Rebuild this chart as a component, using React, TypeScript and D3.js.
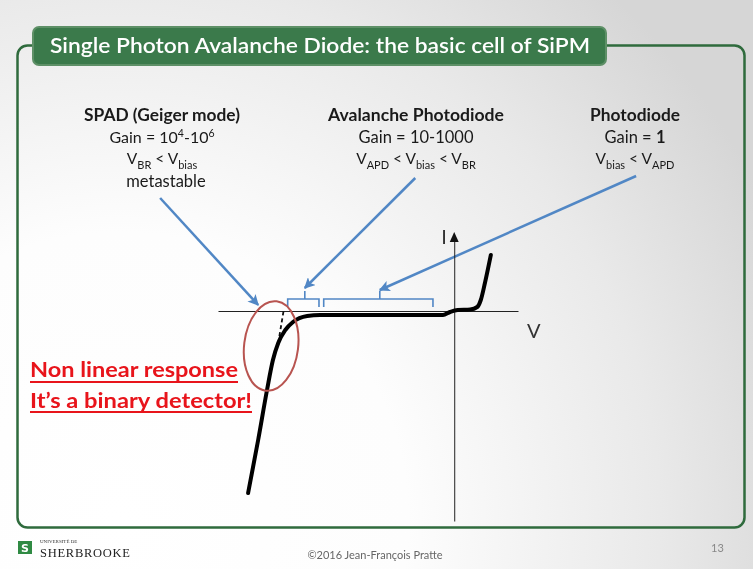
import React, { useRef, useEffect } from 'react';
import { select, scaleLinear, line, curveMonotoneX, axisBottom, axisLeft } from 'd3';

// I-V characteristic of the diode (V in volts, I in arbitrary current units)
const voltage = [-34.9, -33.2, -31.7, -30.7, -29.8, -28.6, -27.3, -24.9, -22.7, -1.9, -0.7, 0.6, 2.7, 3.9, 4.5, 5.2, 6.2];
const current = [-18.2, -12.9, -7.9, -4.9, -3.2, -1.9, -1.1, -0.5, -0.4, -0.4, -0.1, 0.1, 0.15, 0.4, 1.1, 2.8, 5.6];

// linear extrapolation of the breakdown slope (dashed)
const dashVoltage = [-29.8, -28.9];
const dashCurrent = [-3.2, 0];

// regions
const regionTitles = ['SPAD (Geiger mode)', 'Avalanche Photodiode', 'Photodiode'];
const regionCenters = [162, 416, 635];
const regionTitleWidths = [156, 176, 90];

// annotation arrows: start and end in (V, I)
const arrowStartV = [-49.8, -6.6, 30.8];
const arrowStartI = [11.3, 13.3, 13.5];
const arrowEndV = [-33.2, -25.3, -12.6];
const arrowEndI = [0.6, 2.3, 2.1];

// braces over the curve: from, tip, to (V)
const braceFromV = [-28.2, -22.1];
const braceTipV = [-25.3, -12.6];
const braceToV = [-22.9, -3.6];

const W = 753;
const H = 569;
const blue = '#5187c5';
const font = 'Lato, "Open Sans", sans-serif';

const App = () => {
  const xAxisRef = useRef<SVGGElement>(null);
  const yAxisRef = useRef<SVGGElement>(null);

  const x = scaleLinear().domain([-40, 10.8]).range([218, 518]);
  const y = scaleLinear().domain([-21, 7.6]).range([521, 235]);

  useEffect(() => {
    const gx = select(xAxisRef.current);
    gx.call(axisBottom(x).tickValues([]).tickSizeOuter(0) as any);
    gx.select('.domain').attr('stroke', '#222').attr('stroke-width', 1);
    const gy = select(yAxisRef.current);
    gy.call(axisLeft(y).tickValues([]).tickSizeOuter(0) as any);
    gy.select('.domain').attr('stroke', '#222').attr('stroke-width', 1);
  }, []);

  const pts = voltage.map((v, i) => [v, current[i]] as [number, number]);
  const ivLine = line<[number, number]>()
    .x(d => x(d[0]))
    .y(d => y(d[1]))
    .curve(curveMonotoneX);
  const dashPts = dashVoltage.map((v, i) => [v, dashCurrent[i]] as [number, number]);
  const straight = line<[number, number]>().x(d => x(d[0])).y(d => y(d[1]));

  const braceTop = y(1.2);
  const braceEnd = y(0.4);
  const braceTipY = y(2.0);

  const sub = (t: string) => (
    <tspan fontSize={11} dy={5}>{t}</tspan>
  );
  const back = (t: string) => <tspan dy={-5}>{t}</tspan>;

  return (
    <svg width={W} height={H} style={{ position: 'fixed', left: 0, top: 0 }} fontFamily={font}>
      <defs>
        <radialGradient id="bg" gradientUnits="userSpaceOnUse" cx={120} cy={520} r={720}>
          <stop offset="0%" stopColor="#ffffff" />
          <stop offset="40%" stopColor="#fdfdfd" />
          <stop offset="75%" stopColor="#e9e9e9" />
          <stop offset="100%" stopColor="#d6d6d6" />
        </radialGradient>
        <marker id="arr" viewBox="0 0 10 10" refX={9} refY={5} markerWidth={11} markerHeight={11}
          markerUnits="userSpaceOnUse" orient="auto">
          <path d="M0,0L10,5L0,10L2.5,5Z" fill={blue} />
        </marker>
      </defs>
      <rect width={W} height={H} fill="url(#bg)" />

      {/* frame */}
      <rect x={17.5} y={45.5} width={727} height={482} rx={10} fill="none" stroke="#2f6b3d" strokeWidth={2.5} />
      <rect x={33} y={27} width={573} height={38} rx={6} fill="#3b7a4b" stroke="#5e9067" strokeWidth={2} />
      <text x={50} y={53} fill="#fff" fontSize={20.5} fontWeight={600} textLength={540} lengthAdjust="spacingAndGlyphs">
        Single Photon Avalanche Diode: the basic cell of SiPM
      </text>

      {/* region descriptions */}
      <g fill="#1a1a1a" textAnchor="middle">
        {regionTitles.map((t, i) => (
          <text key={t} x={regionCenters[i]} y={121} fontSize={16.5} fontWeight={700}
            textLength={regionTitleWidths[i]} lengthAdjust="spacingAndGlyphs">{t}</text>
        ))}
        <text x={regionCenters[0]} y={143} fontSize={16}>
          Gain = 10<tspan fontSize={10.5} dy={-6}>4</tspan><tspan dy={6}>-10</tspan><tspan fontSize={10.5} dy={-6}>6</tspan>
        </text>
        <text x={regionCenters[1]} y={143} fontSize={16.5}>Gain = 10-1000</text>
        <text x={regionCenters[2]} y={143} fontSize={16.5}>Gain = <tspan fontWeight={700}>1</tspan></text>
        <text x={regionCenters[0]} y={164} fontSize={15.5}>
          V{sub('BR')}{back(' < V')}{sub('bias')}
        </text>
        <text x={regionCenters[1]} y={164} fontSize={15.5}>
          V{sub('APD')}{back(' < V')}{sub('bias')}{back(' < V')}{sub('BR')}
        </text>
        <text x={regionCenters[2]} y={164} fontSize={15.5}>
          V{sub('bias')}{back(' < V')}{sub('APD')}
        </text>
        <text x={regionCenters[0] + 4} y={187} fontSize={16.5}>metastable</text>
      </g>

      {/* arrows */}
      <g stroke={blue} strokeWidth={2.5} fill="none">
        {arrowStartV.map((v, i) => (
          <line key={i} x1={x(v)} y1={y(arrowStartI[i])} x2={x(arrowEndV[i])} y2={y(arrowEndI[i])}
            markerEnd="url(#arr)" />
        ))}
      </g>
      <g stroke={blue} strokeWidth={1.6} fill="none">
        {braceFromV.map((v, i) => {
          const a = x(v), t = x(braceTipV[i]), b = x(braceToV[i]);
          return (
            <path key={i}
              d={`M${a},${braceEnd}V${braceTop}H${t}V${braceTipY}M${t},${braceTop}H${b}V${braceEnd}`} />
          );
        })}
      </g>

      {/* axes */}
      <g ref={xAxisRef} transform={`translate(0,${y(0)})`} />
      <g ref={yAxisRef} transform={`translate(${x(0)},0)`} />
      <path d={`M${x(0)},${y(7.6) - 3}l-4.5,10h9z`} fill="#111" />
      <text x={x(0) - 13} y={y(7.6) + 9} fontSize={20} fill="#333">I</text>
      <text x={527} y={338} fontSize={20} fill="#333">V</text>

      {/* curve */}
      <path d={straight(dashPts) || ''} stroke="#111" strokeWidth={1.8} strokeDasharray="4,3" fill="none" />
      <path d={ivLine(pts) || ''} stroke="#000" strokeWidth={4} fill="none" strokeLinecap="round" strokeLinejoin="round" />

      {/* metastable region */}
      <ellipse cx={x(-31.0)} cy={y(-3.5)} rx={27} ry={45} fill="none" stroke="#b85450" strokeWidth={2}
        transform={`rotate(7,${x(-31.0)},${y(-3.5)})`} />

      {/* red remark */}
      <g fill="#e8141b" fontSize={21} fontWeight={700}>
        <text x={30} y={377} textLength={208} lengthAdjust="spacingAndGlyphs">Non linear response</text>
        <text x={30} y={408} textLength={222} lengthAdjust="spacingAndGlyphs">It’s a binary detector!</text>
        <line x1={30} x2={238} y1={382} y2={382} stroke="#e8141b" strokeWidth={2} />
        <line x1={30} x2={252} y1={412} y2={412} stroke="#e8141b" strokeWidth={2} />
      </g>

      {/* footer */}
      <rect x={18} y={541} width={14} height={13} fill="#2f8a43" />
      <text x={25} y={552} fontSize={11} fill="#fff" fontWeight={700} textAnchor="middle" fontFamily="DejaVu Sans">S</text>
      <text x={40} y={543} fontSize={5} fill="#333" fontFamily='"Liberation Serif", serif'>UNIVERSITÉ DE</text>
      <text x={40} y={557} fontSize={12.5} fill="#222" fontFamily='"Liberation Serif", serif' textLength={90}>SHERBROOKE</text>
      <text x={375} y={559} fontSize={11} fill="#666" textAnchor="middle">©2016 Jean-François Pratte</text>
      <text x={711} y={552} fontSize={11} fill="#888">13</text>
    </svg>
  );
};

export default App;
